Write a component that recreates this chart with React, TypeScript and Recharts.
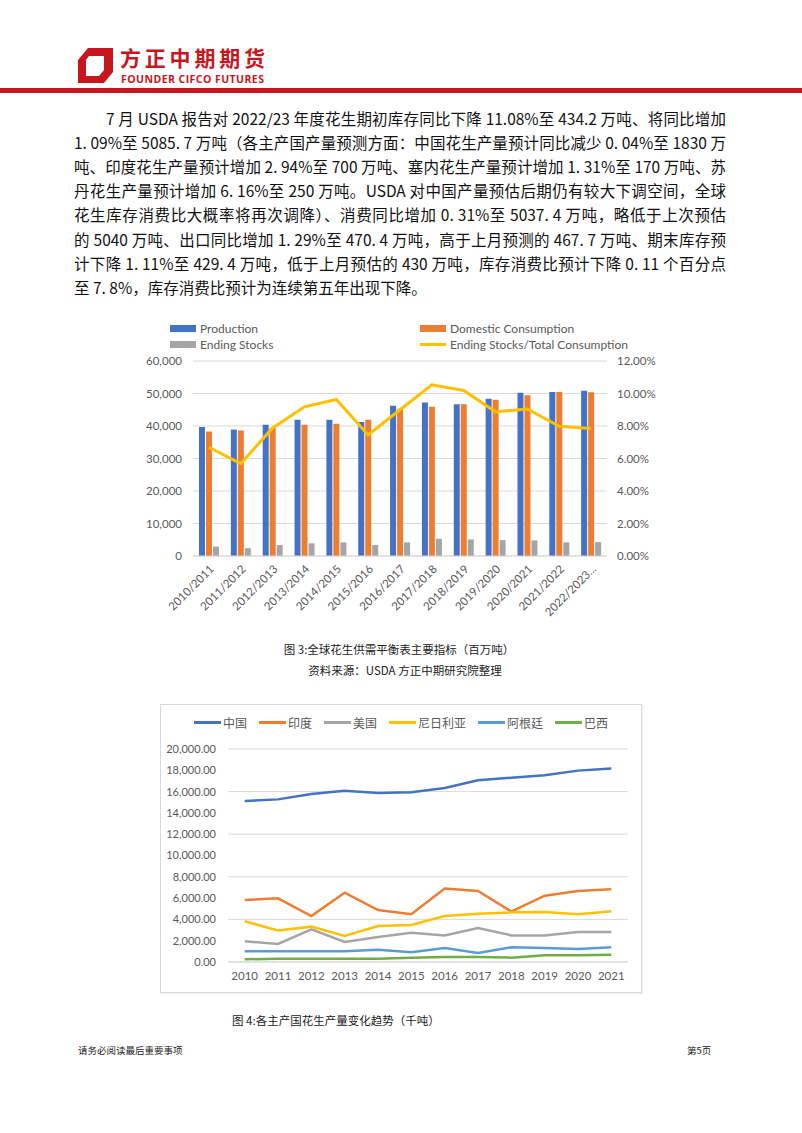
import React from "react";
import {
  ComposedChart,
  LineChart,
  Bar,
  Line,
  XAxis,
  YAxis,
  CartesianGrid,
} from "recharts";

// chart 1: world peanut balance (thousand tonnes / ratio %)
const seasons = [
  "2010/2011", "2011/2012", "2012/2013", "2013/2014", "2014/2015", "2015/2016",
  "2016/2017", "2017/2018", "2018/2019", "2019/2020", "2020/2021", "2021/2022",
  "2022/2023...",
];
const production = [39700, 38900, 40400, 41900, 41900, 41200, 46200, 47200, 46700, 48400, 50200, 50500, 50860];
const domesticConsumption = [38300, 38600, 39400, 40400, 40700, 41900, 45300, 45900, 46700, 48100, 49500, 50500, 50370];
const endingStocks = [2900, 2400, 3400, 3900, 4200, 3400, 4200, 5300, 5100, 4900, 4800, 4200, 4290];
const stocksToUse = [6.69, 5.68, 7.88, 9.18, 9.63, 7.45, 9.0, 10.53, 10.19, 8.87, 9.05, 7.98, 7.84];
const leftTicks = [0, 10000, 20000, 30000, 40000, 50000, 60000];
const rightTicks = [0, 2, 4, 6, 8, 10, 12];

// chart 2: production by country (thousand tonnes)
const years = ["2010", "2011", "2012", "2013", "2014", "2015", "2016", "2017", "2018", "2019", "2020", "2021"];
const china = [15120, 15270, 15770, 16090, 15870, 15930, 16340, 17060, 17310, 17530, 17970, 18180];
const india = [5820, 5980, 4320, 6510, 4880, 4480, 6890, 6670, 4730, 6230, 6670, 6820];
const usa = [1940, 1690, 3070, 1880, 2350, 2750, 2500, 3190, 2500, 2500, 2820, 2820];
const nigeria = [3820, 2970, 3320, 2440, 3380, 3470, 4320, 4540, 4660, 4690, 4480, 4760];
const argentina = [1000, 1000, 1000, 1000, 1160, 910, 1310, 850, 1380, 1310, 1220, 1380];
const brazil = [250, 310, 310, 310, 310, 410, 470, 470, 410, 630, 630, 690];
const countryTicks = [0, 2000, 4000, 6000, 8000, 10000, 12000, 14000, 16000, 18000, 20000];

const balanceData = seasons.map((season, i) => ({
  season,
  production: production[i],
  consumption: domesticConsumption[i],
  stocks: endingStocks[i],
  ratio: stocksToUse[i],
}));

const countryData = years.map((year, i) => ({
  year,
  china: china[i],
  india: india[i],
  usa: usa[i],
  nigeria: nigeria[i],
  argentina: argentina[i],
  brazil: brazil[i],
}));

const countrySeries = [
  { key: "china", name: "中国", color: "#4472C4" },
  { key: "india", name: "印度", color: "#ED7D31" },
  { key: "usa", name: "美国", color: "#A5A5A5" },
  { key: "nigeria", name: "尼日利亚", color: "#FFC000" },
  { key: "argentina", name: "阿根廷", color: "#5B9BD5" },
  { key: "brazil", name: "巴西", color: "#70AD47" },
];

const paragraph = [
  "7 月 USDA 报告对 2022/23 年度花生期初库存同比下降 11.08%至 434.2 万吨、将同比增加",
  "1. 09%至 5085. 7 万吨（各主产国产量预测方面：中国花生产量预计同比减少 0. 04%至 1830 万",
  "吨、印度花生产量预计增加 2. 94%至 700 万吨、塞内花生产量预计增加 1. 31%至 170 万吨、苏",
  "丹花生产量预计增加 6. 16%至 250 万吨。USDA 对中国产量预估后期仍有较大下调空间，全球",
  "花生库存消费比大概率将再次调降）、消费同比增加 0. 31%至 5037. 4 万吨，略低于上次预估",
  "的 5040 万吨、出口同比增加 1. 29%至 470. 4 万吨，高于上月预测的 467. 7 万吨、期末库存预",
  "计下降 1. 11%至 429. 4 万吨，低于上月预估的 430 万吨，库存消费比预计下降 0. 11 个百分点",
  "至 7. 8%，库存消费比预计为连续第五年出现下降。",
];

const RED = "#C8161E";
const CJK = "'Noto Sans CJK SC', sans-serif";
const LATIN = "Lato, 'Noto Sans', sans-serif";
const tickStyle = { fill: "#595959", fontSize: 11.5, fontFamily: LATIN };

const abs = (left: number, top: number, extra: React.CSSProperties = {}): React.CSSProperties => ({
  position: "absolute",
  left,
  top,
  ...extra,
});

const Logo = () => (
  <svg width={200} height={50} style={abs(70, 40)}>
    <polygon points="18,8 43,8 43,32 34,43 8,43 8,20" fill={RED} />
    <polygon points="19,16 34,16 34,30 29,36 16,36 16,20" fill="#fff" />
    <polygon points="34,8 43,8 43,16 34,16" fill={RED} />
    <text x={50} y={26} fill={RED} fontSize={21} fontWeight={700} fontFamily={CJK} textLength={145}>
      方正中期期货
    </text>
    <text x={51} y={43} fill={RED} fontSize={10.5} fontWeight={700} fontFamily="'Open Sans', sans-serif" textLength={143}>
      FOUNDER CIFCO FUTURES
    </text>
  </svg>
);

const BalanceLegend = () => {
  const item = (swatch: React.ReactNode, label: string, left: number, top: number) => (
    <div style={abs(left, top, { display: "flex", alignItems: "center", height: 14 })}>
      {swatch}
      <span style={{ marginLeft: 4, fontSize: 12, color: "#595959", fontFamily: LATIN, whiteSpace: "nowrap" }}>
        {label}
      </span>
    </div>
  );
  const box = (color: string) => <span style={{ display: "inline-block", width: 26, height: 7, background: color }} />;
  const line = (color: string) => <span style={{ display: "inline-block", width: 26, height: 3, background: color }} />;
  return (
    <>
      {item(box("#4472C4"), "Production", 170, 321)}
      {item(box("#ED7D31"), "Domestic Consumption", 420, 321)}
      {item(box("#A5A5A5"), "Ending Stocks", 170, 337)}
      {item(line("#FFC000"), "Ending Stocks/Total Consumption", 420, 337)}
    </>
  );
};

const BalanceChart = () => (
  <div style={abs(140, 350)}>
    <ComposedChart
      width={525}
      height={272}
      data={balanceData}
      margin={{ top: 11, right: 3, left: 0, bottom: 0 }}
      barGap={1}
    >
      <CartesianGrid yAxisId="left" vertical={false} stroke="#D9D9D9" />
      <XAxis
        dataKey="season"
        height={66}
        interval={0}
        angle={-45}
        textAnchor="end"
        tickLine={false}
        tickMargin={2}
        axisLine={{ stroke: "#D9D9D9" }}
        tick={tickStyle}
      />
      <YAxis
        yAxisId="left"
        width={53}
        domain={[0, 60000]}
        ticks={leftTicks}
        tickFormatter={(v: number) => v.toLocaleString("en-US")}
        axisLine={false}
        tickLine={false}
        tickMargin={5}
        tick={tickStyle}
      />
      <YAxis
        yAxisId="right"
        orientation="right"
        width={55}
        domain={[0, 12]}
        ticks={rightTicks}
        tickFormatter={(v: number) => v.toFixed(2) + "%"}
        axisLine={false}
        tickLine={false}
        tickMargin={4}
        tick={tickStyle}
      />
      <Bar yAxisId="left" dataKey="production" fill="#4472C4" barSize={6} isAnimationActive={false} />
      <Bar yAxisId="left" dataKey="consumption" fill="#ED7D31" barSize={6} isAnimationActive={false} />
      <Bar yAxisId="left" dataKey="stocks" fill="#A5A5A5" barSize={6} isAnimationActive={false} />
      <Line
        yAxisId="right"
        type="linear"
        dataKey="ratio"
        stroke="#FFC000"
        strokeWidth={3}
        dot={false}
        isAnimationActive={false}
      />
    </ComposedChart>
  </div>
);

const CountryChart = () => (
  <div
    style={abs(160, 704, {
      width: 480,
      height: 287,
      border: "1px solid #D9D9D9",
      boxShadow: "1px 1px 2px rgba(0,0,0,0.08)",
      background: "#fff",
    })}
  >
    <div
      style={abs(0, 9, {
        width: 480,
        display: "flex",
        justifyContent: "center",
        gap: 12,
        fontFamily: CJK,
        fontSize: 12,
        color: "#595959",
      })}
    >
      {countrySeries.map((s) => (
        <div key={s.key} style={{ display: "flex", alignItems: "center", height: 16 }}>
          <span style={{ display: "inline-block", width: 27, height: 3, background: s.color, marginRight: 2 }} />
          <span>{s.name}</span>
        </div>
      ))}
    </div>
    <div style={abs(0, 0)}>
      <LineChart width={480} height={287} data={countryData} margin={{ top: 44, right: 13, left: 0, bottom: 0 }}>
        <CartesianGrid vertical={false} stroke="#D9D9D9" />
        <XAxis
          dataKey="year"
          height={30}
          padding={{ left: 16.7, right: 16.7 }}
          tickLine={false}
          tickMargin={4}
          axisLine={{ stroke: "#D9D9D9" }}
          tick={{ ...tickStyle, fontSize: 11.5 }}
        />
        <YAxis
          width={67}
          domain={[0, 20000]}
          ticks={countryTicks}
          tickFormatter={(v: number) =>
            v.toLocaleString("en-US", { minimumFractionDigits: 2, maximumFractionDigits: 2 })
          }
          axisLine={false}
          tickLine={false}
          tickMargin={6}
          tick={{ ...tickStyle, fontSize: 11 }}
        />
        {countrySeries.map((s) => (
          <Line
            key={s.key}
            type="linear"
            dataKey={s.key}
            name={s.name}
            stroke={s.color}
            strokeWidth={2.5}
            dot={false}
            isAnimationActive={false}
          />
        ))}
      </LineChart>
    </div>
  </div>
);

export default function App() {
  return (
    <div style={abs(0, 0, { width: 802, height: 1133, background: "#fff", fontFamily: CJK, overflow: "hidden" })}>
      <Logo />
      <div style={abs(0, 88, { width: 802, height: 5, background: RED })} />

      {paragraph.map((line, i) => {
        const last = i === paragraph.length - 1;
        return (
          <div
            key={i}
            style={abs(i === 0 ? 106 : 74, 106 + i * 24.1, {
              width: i === 0 ? 620 : 652,
              height: 24,
              lineHeight: "24px",
              fontSize: 15.5,
              color: "#111",
              whiteSpace: "nowrap",
              textAlign: "justify",
              textAlignLast: last ? "left" : "justify",
            })}
          >
            {line}
          </div>
        );
      })}

      <BalanceLegend />
      <BalanceChart />

      <div style={abs(0, 641, { width: 798, textAlign: "center", fontSize: 11.5, color: "#222" })}>
        图 3:全球花生供需平衡表主要指标（百万吨）
      </div>
      <div style={abs(0, 662, { width: 810, textAlign: "center", fontSize: 11.5, color: "#222" })}>
        资料来源：USDA 方正中期研究院整理
      </div>

      <CountryChart />

      <div style={abs(232, 1012, { fontSize: 11.5, color: "#222" })}>图 4:各主产国花生产量变化趋势（千吨）</div>

      <div style={abs(78, 1043, { fontSize: 9.5, color: "#222" })}>请务必阅读最后重要事项</div>
      <div style={abs(687, 1043, { fontSize: 9.5, color: "#222" })}>第5页</div>
    </div>
  );
}
